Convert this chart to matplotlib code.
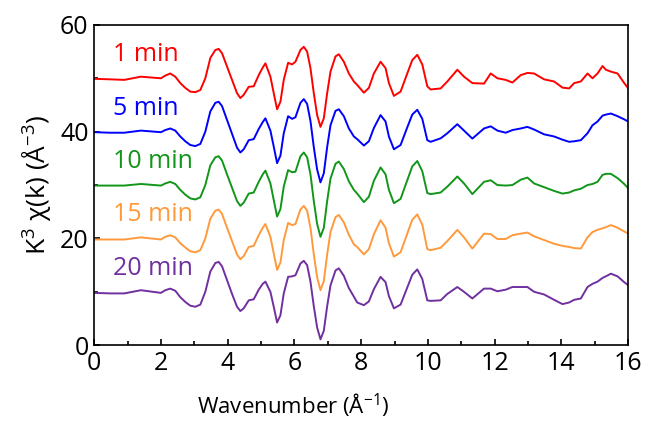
import matplotlib
matplotlib.use("Agg")
import matplotlib.pyplot as plt
from matplotlib.ticker import MultipleLocator

# wavenumber grid (1/A) and k^3 chi(k) for each sample, before vertical offset
k = [0.0, 0.5, 0.9, 1.4, 2.0, 2.13, 2.28, 2.43, 2.58, 2.73,
     2.88, 3.03, 3.18, 3.33, 3.48, 3.63, 3.73, 3.83, 3.98, 4.13,
     4.28, 4.38, 4.48, 4.63, 4.78, 4.93, 5.05, 5.13, 5.28, 5.38,
     5.48, 5.58, 5.68, 5.81, 5.93, 6.03, 6.18, 6.28, 6.38, 6.48,
     6.58, 6.68, 6.78, 6.88, 6.98, 7.08, 7.23, 7.33, 7.48, 7.63,
     7.78, 7.88, 8.08, 8.23, 8.38, 8.58, 8.73, 8.83, 8.98, 9.18,
     9.38, 9.53, 9.68, 9.83, 9.98, 10.08, 10.38, 10.58, 10.88, 11.08,
     11.33, 11.68, 11.88, 12.08, 12.33, 12.53, 12.78, 12.98, 13.18, 13.48,
     13.78, 14.03, 14.23, 14.38, 14.58, 14.78, 14.93, 15.08, 15.23, 15.33,
     15.48, 15.68, 15.88, 16.0]

chi_1min = [-0.1, -0.2, -0.3, 0.3, 0.0, 0.5, 0.9, 0.3, -0.9, -1.8,
            -2.5, -2.6, -2.2, 0.0, 3.8, 5.3, 5.5, 4.7, 2.2, -0.3,
            -2.8, -3.7, -3.1, -1.6, -1.5, 0.6, 2.0, 2.8, 0.3, -2.8,
            -5.8, -4.4, -0.3, 2.9, 2.6, 3.1, 5.3, 5.9, 5.0, 1.9,
            -2.8, -6.9, -9.1, -7.5, -2.8, 1.25, 4.1, 4.5, 3.1, 0.9,
            -0.6, -1.25, -2.7, -1.8, 0.9, 3.1, 1.9, -0.9, -3.3, -2.5,
            0.9, 3.4, 4.4, 2.6, -1.5, -2.1, -1.9, -0.6, 1.6, 0.3,
            -0.9, -1.0, 0.9, 0.0, -0.3, -0.8, 0.6, 1.0, 0.9, -0.2,
            -0.6, -1.75, -1.9, -0.9, -0.6, 0.9, 0.0, 0.9, 2.3, 1.6,
            1.25, 0.9, -0.9, -1.9]
chi_5min = [-0.1, -0.2, -0.2, 0.2, -0.1, 0.3, 0.6, 0.2, -0.9, -1.8,
            -2.5, -2.7, -2.3, 0.0, 3.8, 5.4, 5.6, 4.8, 2.2, -0.4,
            -3.0, -3.9, -3.3, -1.6, -1.4, 0.5, 1.8, 2.5, 0.2, -2.8,
            -5.9, -4.5, -0.3, 2.9, 2.4, 2.7, 5.4, 6.1, 5.2, 2.0,
            -2.9, -7.1, -9.5, -7.8, -2.9, 1.2, 3.9, 4.2, 2.9, 0.6,
            -0.9, -1.4, -2.6, -1.8, 0.7, 3.1, 1.9, -0.9, -3.3, -2.5,
            0.8, 3.2, 4.1, 2.4, -1.6, -1.9, -1.25, -0.3, 1.4, 0.2,
            -1.3, 0.6, 1.0, 0.2, -0.2, 0.3, 0.6, 0.9, 0.4, -0.5,
            -0.9, -1.5, -1.9, -1.8, -1.6, -0.3, 1.2, 1.9, 3.0, 3.2,
            3.4, 2.9, 2.3, 1.9]
chi_10min = [-0.1, -0.1, -0.1, 0.2, -0.1, 0.3, 0.6, 0.2, -0.9, -1.8,
             -2.5, -2.7, -2.3, 0.0, 3.7, 5.2, 5.4, 4.6, 2.0, -0.5,
             -3.0, -3.9, -3.3, -1.6, -1.4, 0.6, 2.0, 2.7, 0.3, -2.8,
             -5.9, -4.5, -0.3, 2.8, 2.4, 2.5, 5.4, 6.1, 5.2, 2.0,
             -3.0, -7.3, -9.7, -8.0, -3.0, 1.2, 4.0, 4.4, 3.0, 0.7,
             -0.9, -1.6, -3.2, -2.2, 0.8, 3.3, 2.0, -0.9, -3.4, -2.6,
             0.9, 3.5, 4.5, 2.6, -1.5, -1.7, -1.4, -0.3, 1.6, 0.3,
             -1.7, 0.6, 0.9, 0.0, -0.1, 0.0, 1.0, 1.4, 0.3, -0.4,
             -1.1, -1.6, -1.4, -1.0, -0.7, 0.0, 0.2, 0.6, 1.9, 2.1,
             2.1, 1.3, 0.2, -0.6]
chi_15min = [-0.2, -0.2, -0.2, 0.2, -0.2, 0.3, 0.6, 0.2, -0.9, -1.7,
             -2.4, -2.6, -2.2, 0.0, 3.7, 5.2, 5.4, 4.6, 2.0, -0.5,
             -3.0, -3.9, -3.3, -1.6, -1.4, 0.6, 2.0, 2.7, 0.3, -2.8,
             -5.9, -4.5, -0.3, 2.9, 2.5, 2.7, 5.4, 6.1, 5.2, 2.0,
             -3.0, -7.3, -9.7, -8.0, -3.0, 1.2, 4.0, 4.4, 3.0, 0.7,
             -1.1, -1.6, -3.0, -2.0, 0.8, 3.4, 2.0, -0.9, -3.4, -2.6,
             0.9, 3.5, 4.5, 2.6, -2.0, -2.2, -1.75, -0.5, 1.6, 0.2,
             -1.9, 0.9, 0.8, -0.1, -0.1, 0.6, 0.9, 1.1, 0.4, -0.3,
             -1.0, -1.4, -1.6, -1.8, -1.9, 0.2, 1.2, 1.6, 1.9, 2.1,
             2.5, 2.0, 1.3, 0.9]
chi_20min = [-0.2, -0.3, -0.3, 0.3, -0.2, 0.3, 0.6, 0.2, -1.0, -1.9,
             -2.6, -2.8, -2.4, 0.0, 3.8, 5.4, 5.6, 4.8, 2.2, -0.4,
             -2.8, -3.6, -3.1, -1.6, -1.4, 0.4, 1.5, 1.9, 0.0, -2.8,
             -5.75, -4.4, -0.3, 2.8, 2.9, 3.1, 5.3, 5.8, 5.0, 1.9,
             -2.7, -6.7, -8.9, -7.3, -2.7, 1.2, 4.0, 4.4, 3.0, 0.7,
             -0.9, -2.0, -2.5, -1.8, 0.5, 2.8, 1.8, -0.8, -3.1, -2.4,
             0.8, 3.2, 4.2, 2.4, -1.6, -1.7, -1.6, -0.4, 0.9, 0.0,
             -1.25, 0.6, 0.6, 0.1, 0.4, 0.9, 0.9, 0.9, 0.0, -0.5,
             -1.5, -2.3, -2.0, -1.5, -1.25, 0.9, 1.5, 1.9, 2.6, 2.9,
             3.4, 2.9, 1.8, 1.25]

labels = ['1 min', '5 min', '10 min', '15 min', '20 min']
offsets = [50, 40, 30, 20, 10]
colors = ['#ff0000', '#0000ff', '#12961a', '#ff9a3c', '#7030a0']
series = [chi_1min, chi_5min, chi_10min, chi_15min, chi_20min]

plt.rcParams['font.family'] = ['Open Sans', 'DejaVu Sans']
plt.rcParams['mathtext.default'] = 'regular'

fig = plt.figure(figsize=(6.45, 4.22), dpi=100)
ax = fig.add_axes([0.146, 0.182, 0.828, 0.759])

for chi, off, c, lab in zip(series, offsets, colors, labels):
    ax.plot(k, [v + off for v in chi], color=c, lw=1.4)
    ax.text(0.57, off + 4.4, lab, color=c, fontsize=18, va='center', ha='left')

ax.set_xlim(0, 16)
ax.set_ylim(0, 60)
ax.xaxis.set_major_locator(MultipleLocator(2))
ax.xaxis.set_minor_locator(MultipleLocator(1))
ax.yaxis.set_major_locator(MultipleLocator(20))
ax.yaxis.set_minor_locator(MultipleLocator(10))
ax.tick_params(which='both', direction='in', labelsize=18, width=1.2)
ax.tick_params(which='major', length=4, pad=4)
ax.tick_params(which='minor', length=3)
for s in ax.spines.values():
    s.set_linewidth(1.2)

ax.set_xlabel('Wavenumber (Å$^{-1}$)', fontsize=16)
ax.xaxis.set_label_coords(0.373, -0.145)
ax.set_ylabel('K$^3$ χ(k) (Å$^{-3}$)', fontsize=19)
ax.yaxis.set_label_coords(-0.078, 0.5)

fig.savefig('out.png', dpi=100)
